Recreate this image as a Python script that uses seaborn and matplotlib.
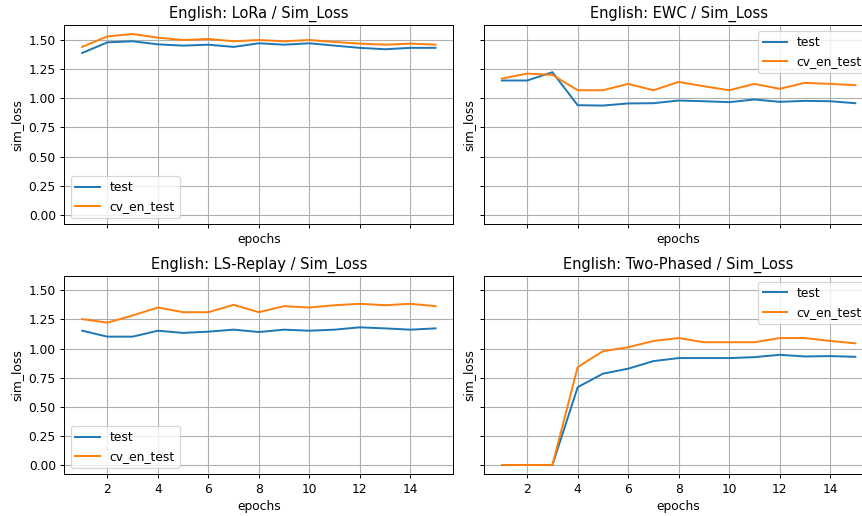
import matplotlib
matplotlib.use("Agg")
import matplotlib.pyplot as plt
import seaborn as sns
import pandas as pd

epochs = list(range(1, 16))

lora_test = [1.386, 1.477, 1.486, 1.460, 1.449, 1.457, 1.438, 1.469, 1.457, 1.469, 1.449, 1.430, 1.418, 1.430, 1.430]
lora_cv = [1.438, 1.528, 1.548, 1.517, 1.497, 1.506, 1.486, 1.497, 1.486, 1.497, 1.480, 1.466, 1.457, 1.466, 1.457]

ewc_test = [1.151, 1.151, 1.222, 0.940, 0.937, 0.955, 0.957, 0.980, 0.974, 0.966, 0.989, 0.969, 0.977, 0.974, 0.957]
ewc_cv = [1.168, 1.210, 1.199, 1.068, 1.068, 1.122, 1.068, 1.139, 1.102, 1.068, 1.122, 1.080, 1.131, 1.122, 1.111]

replay_test = [1.153, 1.102, 1.102, 1.153, 1.134, 1.145, 1.162, 1.142, 1.162, 1.153, 1.162, 1.182, 1.173, 1.162, 1.173]
replay_cv = [1.253, 1.222, 1.284, 1.352, 1.312, 1.312, 1.375, 1.312, 1.364, 1.352, 1.372, 1.384, 1.372, 1.384, 1.364]

twophase_test = [0.0, 0.0, 0.0, 0.668, 0.784, 0.827, 0.892, 0.918, 0.918, 0.918, 0.926, 0.946, 0.932, 0.935, 0.929]
twophase_cv = [0.0, 0.0, 0.0, 0.841, 0.977, 1.011, 1.065, 1.090, 1.054, 1.054, 1.054, 1.090, 1.090, 1.065, 1.045]

methods = ["LoRa", "EWC", "LS-Replay", "Two-Phased"]
series_names = ["test", "cv_en_test"]
series = {
    "LoRa": (lora_test, lora_cv),
    "EWC": (ewc_test, ewc_cv),
    "LS-Replay": (replay_test, replay_cv),
    "Two-Phased": (twophase_test, twophase_cv),
}
legend_locs = {"LoRa": "lower left", "EWC": "upper right",
               "LS-Replay": "lower left", "Two-Phased": "upper right"}

DPI = 88
fig, axes = plt.subplots(2, 2, figsize=(862 / DPI, 516 / DPI), dpi=DPI,
                         sharex=True, sharey=True)

# panel placement: right column runs slightly past the figure edge
positions = {
    (0, 0): [0.0748, 0.5653, 0.451, 0.3863],
    (0, 1): [0.5618, 0.5653, 0.451, 0.3863],
    (1, 0): [0.0748, 0.0814, 0.451, 0.3843],
    (1, 1): [0.5618, 0.0814, 0.451, 0.3843],
}

for idx, method in enumerate(methods):
    r, c = divmod(idx, 2)
    ax = axes[r, c]
    test_vals, cv_vals = series[method]
    df = pd.DataFrame({
        "epochs": epochs * 2,
        "sim_loss": test_vals + cv_vals,
        "split": [series_names[0]] * len(epochs) + [series_names[1]] * len(epochs),
    })
    sns.lineplot(data=df, x="epochs", y="sim_loss", hue="split",
                 hue_order=series_names, palette=["#1f77b4", "#ff7f0e"],
                 linewidth=1.6, ax=ax)
    ax.set_title(f"English: {method} / Sim_Loss", fontsize=12)
    ax.set_xlabel("epochs")
    ax.set_ylabel("sim_loss")
    ax.grid(True, color="#b0b0b0", linewidth=0.9)
    ax.legend(loc=legend_locs[method], title=None)
    ax.set_position(positions[(r, c)])
    ax.xaxis.label.set_visible(True)
    ax.yaxis.label.set_visible(True)

axes[0, 0].set_xticks([2, 4, 6, 8, 10, 12, 14])
axes[0, 0].set_yticks([0.0, 0.25, 0.5, 0.75, 1.0, 1.25, 1.5])

fig.savefig("out.png", dpi=DPI)
